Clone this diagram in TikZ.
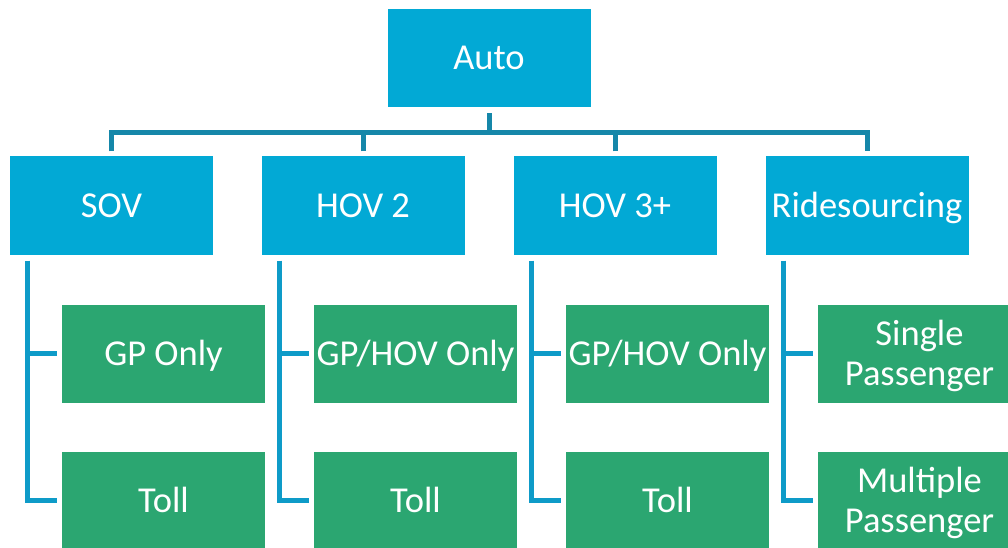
\documentclass[tikz,border=0pt]{standalone}
\usepackage{fontspec}
\setmainfont{Carlito}
\definecolor{boxblue}{HTML}{02A9D5}
\definecolor{boxgreen}{HTML}{2BA671}
\definecolor{topline}{HTML}{1587A9}
\definecolor{subline}{HTML}{0E9BC8}
\tikzset{
  box/.style={minimum width=203pt, minimum height=98pt, inner sep=0pt,
    text=white, font=\fontsize{36.5pt}{40pt}\selectfont,
    text height=23.5pt, text depth=0pt},
  bluebox/.style={box, fill=boxblue},
  greenbox/.style={box, fill=boxgreen},
  twoline/.style={align=center, text height=63.5pt, text depth=0pt},
  upper/.style={draw=topline, line width=5pt},
  lower/.style={draw=subline, line width=5pt}
}
\begin{document}
\begin{tikzpicture}[x=1pt, y=-1pt]
  \clip (0,0) rectangle (1008,548);
  \fill[white] (0,0) rectangle (1008,548);

  % root
  \node[bluebox] (auto) at (489,58) {Auto};

  % second level
  \node[bluebox] (sov)  at (111.5,205.5) {SOV};
  \node[bluebox] (hov2) at (363,205.5) {HOV 2};
  \node[bluebox] (hov3) at (615,205.5) {HOV 3+};
  \node[bluebox] (ride) at (867,205.5) {Ridesourcing};

  % third level
  \node[greenbox] (gp1)   at (163.5,353.5) {GP Only};
  \node[greenbox] (toll1) at (163.5,500.5) {Toll};
  \node[greenbox] (gp2)   at (415.5,353.5) {GP/HOV Only};
  \node[greenbox] (toll2) at (415.5,500.5) {Toll};
  \node[greenbox] (gp3)   at (667.5,353.5) {GP/HOV Only};
  \node[greenbox] (toll3) at (667.5,500.5) {Toll};
  \node[greenbox, twoline] (single) at (919.5,353.5) {Single\\Passenger};
  \node[greenbox, twoline] (multi)  at (919.5,500.5) {Multiple\\Passenger};

  % root to second level
  \coordinate (bus) at ([yshift=-25pt]auto.south);
  \draw[upper] ([yshift=-6pt]auto.south) -- (bus);
  \draw[upper] ([yshift=5pt]sov.north) |- (bus) -| ([yshift=5pt]ride.north);
  \draw[upper] ([yshift=5pt]hov2.north) -- (hov2.north |- bus);
  \draw[upper] ([yshift=5pt]hov3.north) -- (hov3.north |- bus);

  % second level to third level
  \foreach \p/\a/\b in {sov/gp1/toll1, hov2/gp2/toll2, hov3/gp3/toll3, ride/single/multi}{
    \draw[lower] ([xshift=18pt, yshift=-6pt]\p.south west) |- ([xshift=-5pt]\b.west);
    \draw[lower] ([xshift=18pt]\p.south west |- \a.west) -- ([xshift=-5pt]\a.west);
  }
\end{tikzpicture}
\end{document}
